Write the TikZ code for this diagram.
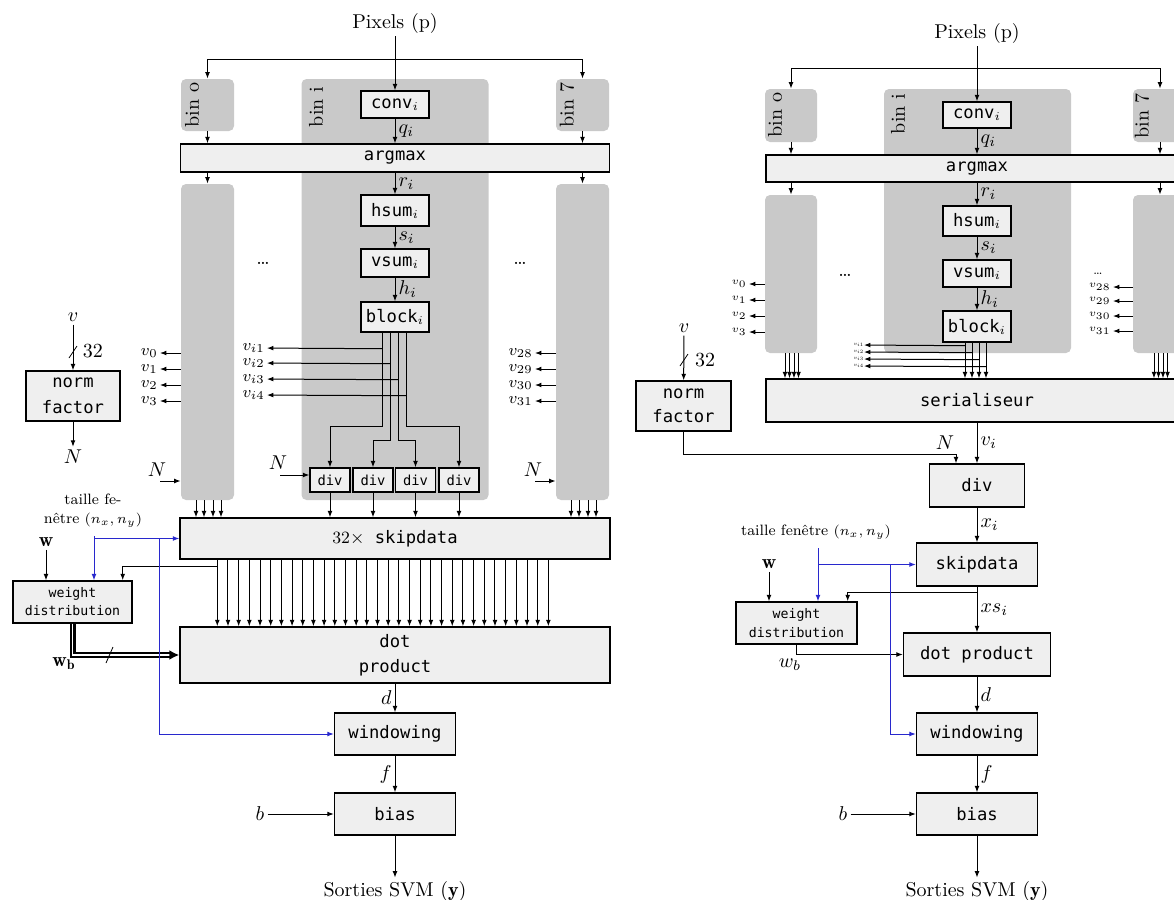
\documentclass[tikz,border=0pt]{standalone}
\usepackage{fontspec}
\setmonofont{DejaVu Sans Mono}
\usetikzlibrary{calc,arrows.meta}
\definecolor{bingray}{RGB}{201,201,201}
\definecolor{boxgray}{RGB}{239,239,239}
\definecolor{sigblue}{RGB}{40,40,205}
\tikzset{
  bin/.style={fill=bingray, rounded corners=2.5pt, inner sep=0pt},
  blk/.style={draw, fill=boxgray, line width=0.7pt, inner sep=0pt, align=center,
    font=\fontsize{8.6}{10}\selectfont\ttfamily},
  sig/.style={-{Latex[length=3.2pt,width=2.4pt]}, line width=0.5pt},
  blu/.style={sig, draw=sigblue},
  lbl/.style={font=\fontsize{10}{12}\selectfont, inner sep=1.5pt},
  vl/.style={font=\footnotesize, inner sep=1pt, anchor=east},
  vsm/.style={font=\fontsize{5.5}{6}\selectfont, inner sep=1pt, anchor=east},
  vtn/.style={font=\fontsize{5}{5}\selectfont, scale=0.5, inner sep=0pt, anchor=east},
  dbl/.style={double, double distance=0.8pt, line width=1.1pt, -{Latex[length=5pt,width=5pt]}},
}
\begin{document}
\begin{tikzpicture}[x=0.5pt, y=-0.5pt]
\clip (0,0) rectangle (1174,900);
% ================= left : 32 x skipdata =================
\node[lbl] (pixL) at (395,23) {Pixels (p)};
\node[bin, minimum width=26.5pt, minimum height=26pt] (b0L) at (207.5,105) {};
\node[bin, minimum width=93.5pt, minimum height=210.5pt] (biL) at (395,289.5) {};
\node[bin, minimum width=26.5pt, minimum height=26pt] (b7L) at (582.5,105) {};
\node[bin, minimum width=26.5pt, minimum height=158pt] (c0L) at (207.5,342) {};
\node[bin, minimum width=26.5pt, minimum height=158pt] (c7L) at (582.5,342) {};
\node[lbl, rotate=90] (tb0L) at (192,105) {bin o};
\node[lbl, rotate=90] (tbiL) at (316,107) {bin i};
\node[lbl, rotate=90] (tb7L) at (567,105) {bin 7};
\node[blk, minimum width=34pt, minimum height=13.5pt] (convL) at (395,104.5) {conv$_i$};
\node[blk, minimum width=214.5pt, minimum height=14pt] (argL) at (395,158) {argmax};
\node[blk, minimum width=34pt, minimum height=15.5pt] (hsumL) at (395,210.5) {hsum$_i$};
\node[blk, minimum width=34pt, minimum height=14pt] (vsumL) at (395,263) {vsum$_i$};
\node[blk, minimum width=34pt, minimum height=15pt] (blockL) at (395,317) {block$_i$};
\foreach \k/\xx in {1/330,2/373,3/415.5,4/459}
  \node[blk, font=\fontsize{6.9}{8}\selectfont\ttfamily, minimum width=20pt, minimum height=12pt] (dL\k) at (\xx,480) {div};
\node[blk, minimum width=215pt, minimum height=20.5pt] (skipL) at (395,538.5) {{\rmfamily 32}$\times$ skipdata};
\node[blk, minimum width=215pt, minimum height=28pt, font=\fontsize{8.6}{12.5}\selectfont\ttfamily] (dotL) at (395,655) {dot\\product};
\node[blk, minimum width=60.5pt, minimum height=21pt] (winL) at (395,734) {windowing};
\node[blk, minimum width=60.5pt, minimum height=21pt] (biasL) at (395,814) {bias};
\node[blk, minimum width=47pt, minimum height=25pt, font=\fontsize{8.6}{13}\selectfont\ttfamily] (normL) at (73,396) {norm\\factor};
\node[blk, minimum width=59.5pt, minimum height=21pt, font=\fontsize{6.6}{9}\selectfont\ttfamily] (wdL) at (72.5,602) {weight\\distribution};
\node[lbl] (dtL1) at (263,263) {\dots};
\node[lbl] (dtL2) at (520,263) {\dots};
\node[lbl] (vinL) at (73,317) {$v$};
\node[lbl] (wdthL) at (93,351) {32};
\node[lbl] (NnL) at (73,457) {$N$};
\node[lbl] (NL0) at (157,470) {$N$};
\node[lbl] (NL1) at (278,463) {$N$};
\node[lbl] (NL7) at (533,470) {$N$};
\node[font=\fontsize{7.5}{9.5}\selectfont, align=center] (tailL) at (93,511) {taille fe-\\nêtre $(n_x,n_y)$};
\node[lbl] (WL) at (46,542) {$\mathbf{w}$};
\node[lbl] (wbL) at (64,664) {$\mathbf{w_b}$};
\node[lbl] (bL) at (260,814) {$b$};
\node[lbl] (outL) at (395,891) {Sorties SVM ($\mathbf{y}$)};
\coordinate (splitL) at (395,59);
\coordinate (nL0) at (160,481);
\coordinate (nL1) at (280,475);
\coordinate (nL7) at (535,481);
\draw[sig] (pixL) -- (convL);
\draw[sig] (splitL) -| (b0L);
\draw[sig] (splitL) -| (b7L);
\draw[sig] (b0L.south) -- (b0L.south |- argL.north);
\draw[sig] (b7L.south) -- (b7L.south |- argL.north);
\draw[sig] (c0L.north |- argL.south) -- (c0L.north);
\draw[sig] (c7L.north |- argL.south) -- (c7L.north);
\draw[sig] (convL) -- node[right, lbl] {$q_i$} (argL);
\draw[sig] (argL) -- node[right, lbl] {$r_i$} (hsumL);
\draw[sig] (hsumL) -- node[right, lbl] {$s_i$} (vsumL);
\draw[sig] (vsumL) -- node[right, lbl] {$h_i$} (blockL);
% block outputs to the div units
\draw[sig] ($(blockL.south)+(-13,0)$) -- ++(0,94) -| (dL1.north);
\draw[sig] ($(blockL.south)+(-5,0)$) -- ++(0,108) -| (dL2.north);
\draw[sig] ($(blockL.south)+(3,0)$) -- ++(0,108) -| (dL3.north);
\draw[sig] ($(blockL.south)+(11,0)$) -- ++(0,94) -| (dL4.north);
\foreach \k/\dx/\yy in {1/-13/348,2/-5/363,3/3/379,4/11/395} {
  \node[vl] (viL\k) at (267,\yy) {$v_{i\k}$};
  \draw[sig] ($(blockL.south)+(\dx,\yy-332)$) -- (viL\k);
}
\foreach \k/\yy in {0/353,1/369,2/385,3/401} {
  \node[vl] (vL\k) at (160,\yy) {$v_{\k}$};
  \draw[sig] (c0L.west |- vL\k) -- (vL\k);
}
\foreach \k/\yy in {28/353,29/369,30/385,31/401} {
  \node[vl] (vL\k) at (535,\yy) {$v_{\k}$};
  \draw[sig] (c7L.west |- vL\k) -- (vL\k);
}
\draw[sig] (nL0) -- (c0L.west |- nL0);
\draw[sig] (nL1) -- (dL1.west |- nL1);
\draw[sig] (nL7) -- (c7L.west |- nL7);
\foreach \k in {1,...,4}
  \draw[sig] (dL\k) -- (dL\k |- skipL.north);
\foreach \dx in {-11.5,-3.5,5.5,13.5} {
  \draw[sig] ($(c0L.south)+(\dx,0)$) coordinate (a) -- (a |- skipL.north);
  \draw[sig] ($(c7L.south)+(\dx,0)$) coordinate (a) -- (a |- skipL.north);
}
\foreach \i in {0,...,31}
  \draw[sig] ($(skipL.south west)+(38+10.68*\i,0)$) coordinate (a) -- (a |- dotL.north);
\draw[sig] ($(skipL.south west)+(38,7)$) -| ($(wdL.north east)+(-10,0)$);
\draw[sig] (vinL) -- (normL);
\draw (69,358) -- (77,346);
\draw[sig] (normL) -- (NnL);
\draw[sig] (WL) -- (WL |- wdL.north);
\draw[dbl] (wdL.south) |- (dotL.west);
\draw (106,663) -- (113,647);
\coordinate (tL) at (94,536);
\coordinate (kL) at (159,539);
\draw[blu] (tL) -- (tL |- wdL.north);
\draw[blu] (tL |- skipL.west) -- (skipL.west);
\draw[blu] (kL) |- (winL.west);
\draw[sig] (dotL) -- node[left, lbl] {$d$} (winL);
\draw[sig] (winL) -- node[left, lbl] {$f$} (biasL);
\draw[sig] (bL) -- (biasL);
\draw[sig] (biasL) -- (outL);
% ================= right : serialised =================
\node[lbl] (pixR) at (977,33) {Pixels (p)};
\node[bin, minimum width=26pt, minimum height=26.5pt] (b0R) at (791,115.5) {};
\node[bin, minimum width=93.5pt, minimum height=132pt] (biR) at (977.5,221) {};
\node[bin, minimum width=27pt, minimum height=26.5pt] (b7R) at (1160,115.5) {};
\node[bin, minimum width=26pt, minimum height=79pt] (c0R) at (791,274) {};
\node[bin, minimum width=27pt, minimum height=79pt] (c7R) at (1160,274) {};
\node[lbl, rotate=90] (tb0R) at (775,115) {bin o};
\node[lbl, rotate=90] (tbiR) at (898,114) {bin i};
\node[lbl, rotate=90] (tb7R) at (1142,116) {bin 7};
\node[blk, minimum width=34pt, minimum height=13pt] (convR) at (977,115) {conv$_i$};
\node[blk, minimum width=211pt, minimum height=13.5pt] (argR) at (977,168.5) {argmax};
\node[blk, minimum width=34pt, minimum height=15pt] (hsumR) at (977,221) {hsum$_i$};
\node[blk, minimum width=34pt, minimum height=13.5pt] (vsumR) at (977,273.5) {vsum$_i$};
\node[blk, minimum width=34pt, minimum height=15.5pt] (blockR) at (977,326.5) {block$_i$};
\node[blk, minimum width=211pt, minimum height=21.5pt] (serR) at (977,400.5) {serialiseur};
\node[blk, minimum width=47.5pt, minimum height=25pt, font=\fontsize{8.6}{12}\selectfont\ttfamily] (normR) at (683.5,406) {norm\\factor};
\node[blk, minimum width=47.5pt, minimum height=21.5pt] (divR) at (977,485.5) {div};
\node[blk, minimum width=60.5pt, minimum height=21.5pt] (skipR) at (977,564.5) {skipdata};
\node[blk, minimum width=60.5pt, minimum height=21pt, font=\fontsize{6.6}{9.5}\selectfont\ttfamily] (wdR) at (796.5,623) {weight\\distribution};
\node[blk, minimum width=73.5pt, minimum height=21.5pt] (dotR) at (977,654.5) {dot product};
\node[blk, minimum width=60.5pt, minimum height=21pt] (winR) at (977,734) {windowing};
\node[blk, minimum width=60.5pt, minimum height=21pt] (biasR) at (977,814) {bias};
\node[lbl] (dtR1) at (845,275) {\dots};
\node[font=\fontsize{6}{6}\selectfont] (dtR2) at (1098,274) {\dots};
\node[lbl] (vinR) at (684,328) {$v$};
\node[lbl] (wdthR) at (705,360) {32};
\node[lbl] (NR) at (945,443) {$N$};
\node[font=\fontsize{7.5}{9}\selectfont] (tailR) at (816,532) {taille fenêtre $(n_x,n_y)$};
\node[lbl] (WR) at (769,564) {$\mathbf{w}$};
\node[lbl] (wbR) at (790,665) {$w_b$};
\node[lbl] (bR) at (843,814) {$b$};
\node[lbl] (outR) at (977,891) {Sorties SVM ($\mathbf{y}$)};
\coordinate (splitR) at (977,68);
\draw[sig] (pixR) -- (convR);
\draw[sig] (splitR) -| (b0R);
\draw[sig] (splitR) -| (b7R);
\draw[sig] (b0R.south) -- (b0R.south |- argR.north);
\draw[sig] (b7R.south) -- (b7R.south |- argR.north);
\draw[sig] (c0R.north |- argR.south) -- (c0R.north);
\draw[sig] (c7R.north |- argR.south) -- (c7R.north);
\draw[sig] (convR) -- node[right, lbl] {$q_i$} (argR);
\draw[sig] (argR) -- node[right, lbl] {$r_i$} (hsumR);
\draw[sig] (hsumR) -- node[right, lbl] {$s_i$} (vsumR);
\draw[sig] (vsumR) -- node[right, lbl] {$h_i$} (blockR);
\foreach \k/\dx/\yy in {1/-12/345,2/-5/352,3/2/359,4/9/366} {
  \draw[sig] ($(blockR.south)+(\dx,0)$) coordinate (a) -- (a |- serR.north);
  \node[vtn] (viR\k) at (864,\yy) {$v_{i\k}$};
  \draw[sig] ($(blockR.south)+(\dx,\yy-342)$) -- (viR\k);
}
\foreach \k/\yy in {0/284,1/300,2/316,3/332} {
  \node[vsm] (vR\k) at (749,\yy) {$v_{\k}$};
  \draw[sig] (c0R.west |- vR\k) -- (vR\k);
}
\foreach \k/\yy in {28/287,29/301,30/316,31/331} {
  \node[vsm] (vR\k) at (1113,\yy) {$v_{\k}$};
  \draw[sig] (c7R.west |- vR\k) -- (vR\k);
}
\foreach \dx in {-6,-1.5,3,7.5} {
  \draw[sig] ($(c0R.south)+(\dx,0)$) coordinate (a) -- (a |- serR.north);
  \draw[sig] ($(c7R.south)+(\dx,0)$) coordinate (a) -- (a |- serR.north);
}
\draw[sig] (vinR) -- (normR);
\draw (680,366) -- (688,354);
\draw[sig] (normR) |- ($(divR.north)+(-21,-9)$) -- ($(divR.north)+(-21,0)$);
\draw[sig] (serR) -- node[right, lbl] {$v_i$} (divR);
\draw[sig] (divR) -- node[right, lbl] {$x_i$} (skipR);
\draw[sig] (skipR) -- node[right, lbl] {$xs_i$} (dotR);
\draw[sig] ($(skipR.south)+(0,6)$) -| ($(wdR.north east)+(-10,0)$);
\draw[sig] (WR) -- (WR |- wdR.north);
\draw[sig] (wdR.south) |- (dotR.west);
\coordinate (tR) at (818,548);
\coordinate (kR) at (890,564);
\draw[blu] (tR) -- (tR |- wdR.north);
\draw[blu] (tR |- skipR.west) -- (skipR.west);
\draw[blu] (kR) |- (winR.west);
\draw[sig] (dotR) -- node[right, lbl] {$d$} (winR);
\draw[sig] (winR) -- node[right, lbl] {$f$} (biasR);
\draw[sig] (bR) -- (biasR);
\draw[sig] (biasR) -- (outR);
\end{tikzpicture}
\end{document}
